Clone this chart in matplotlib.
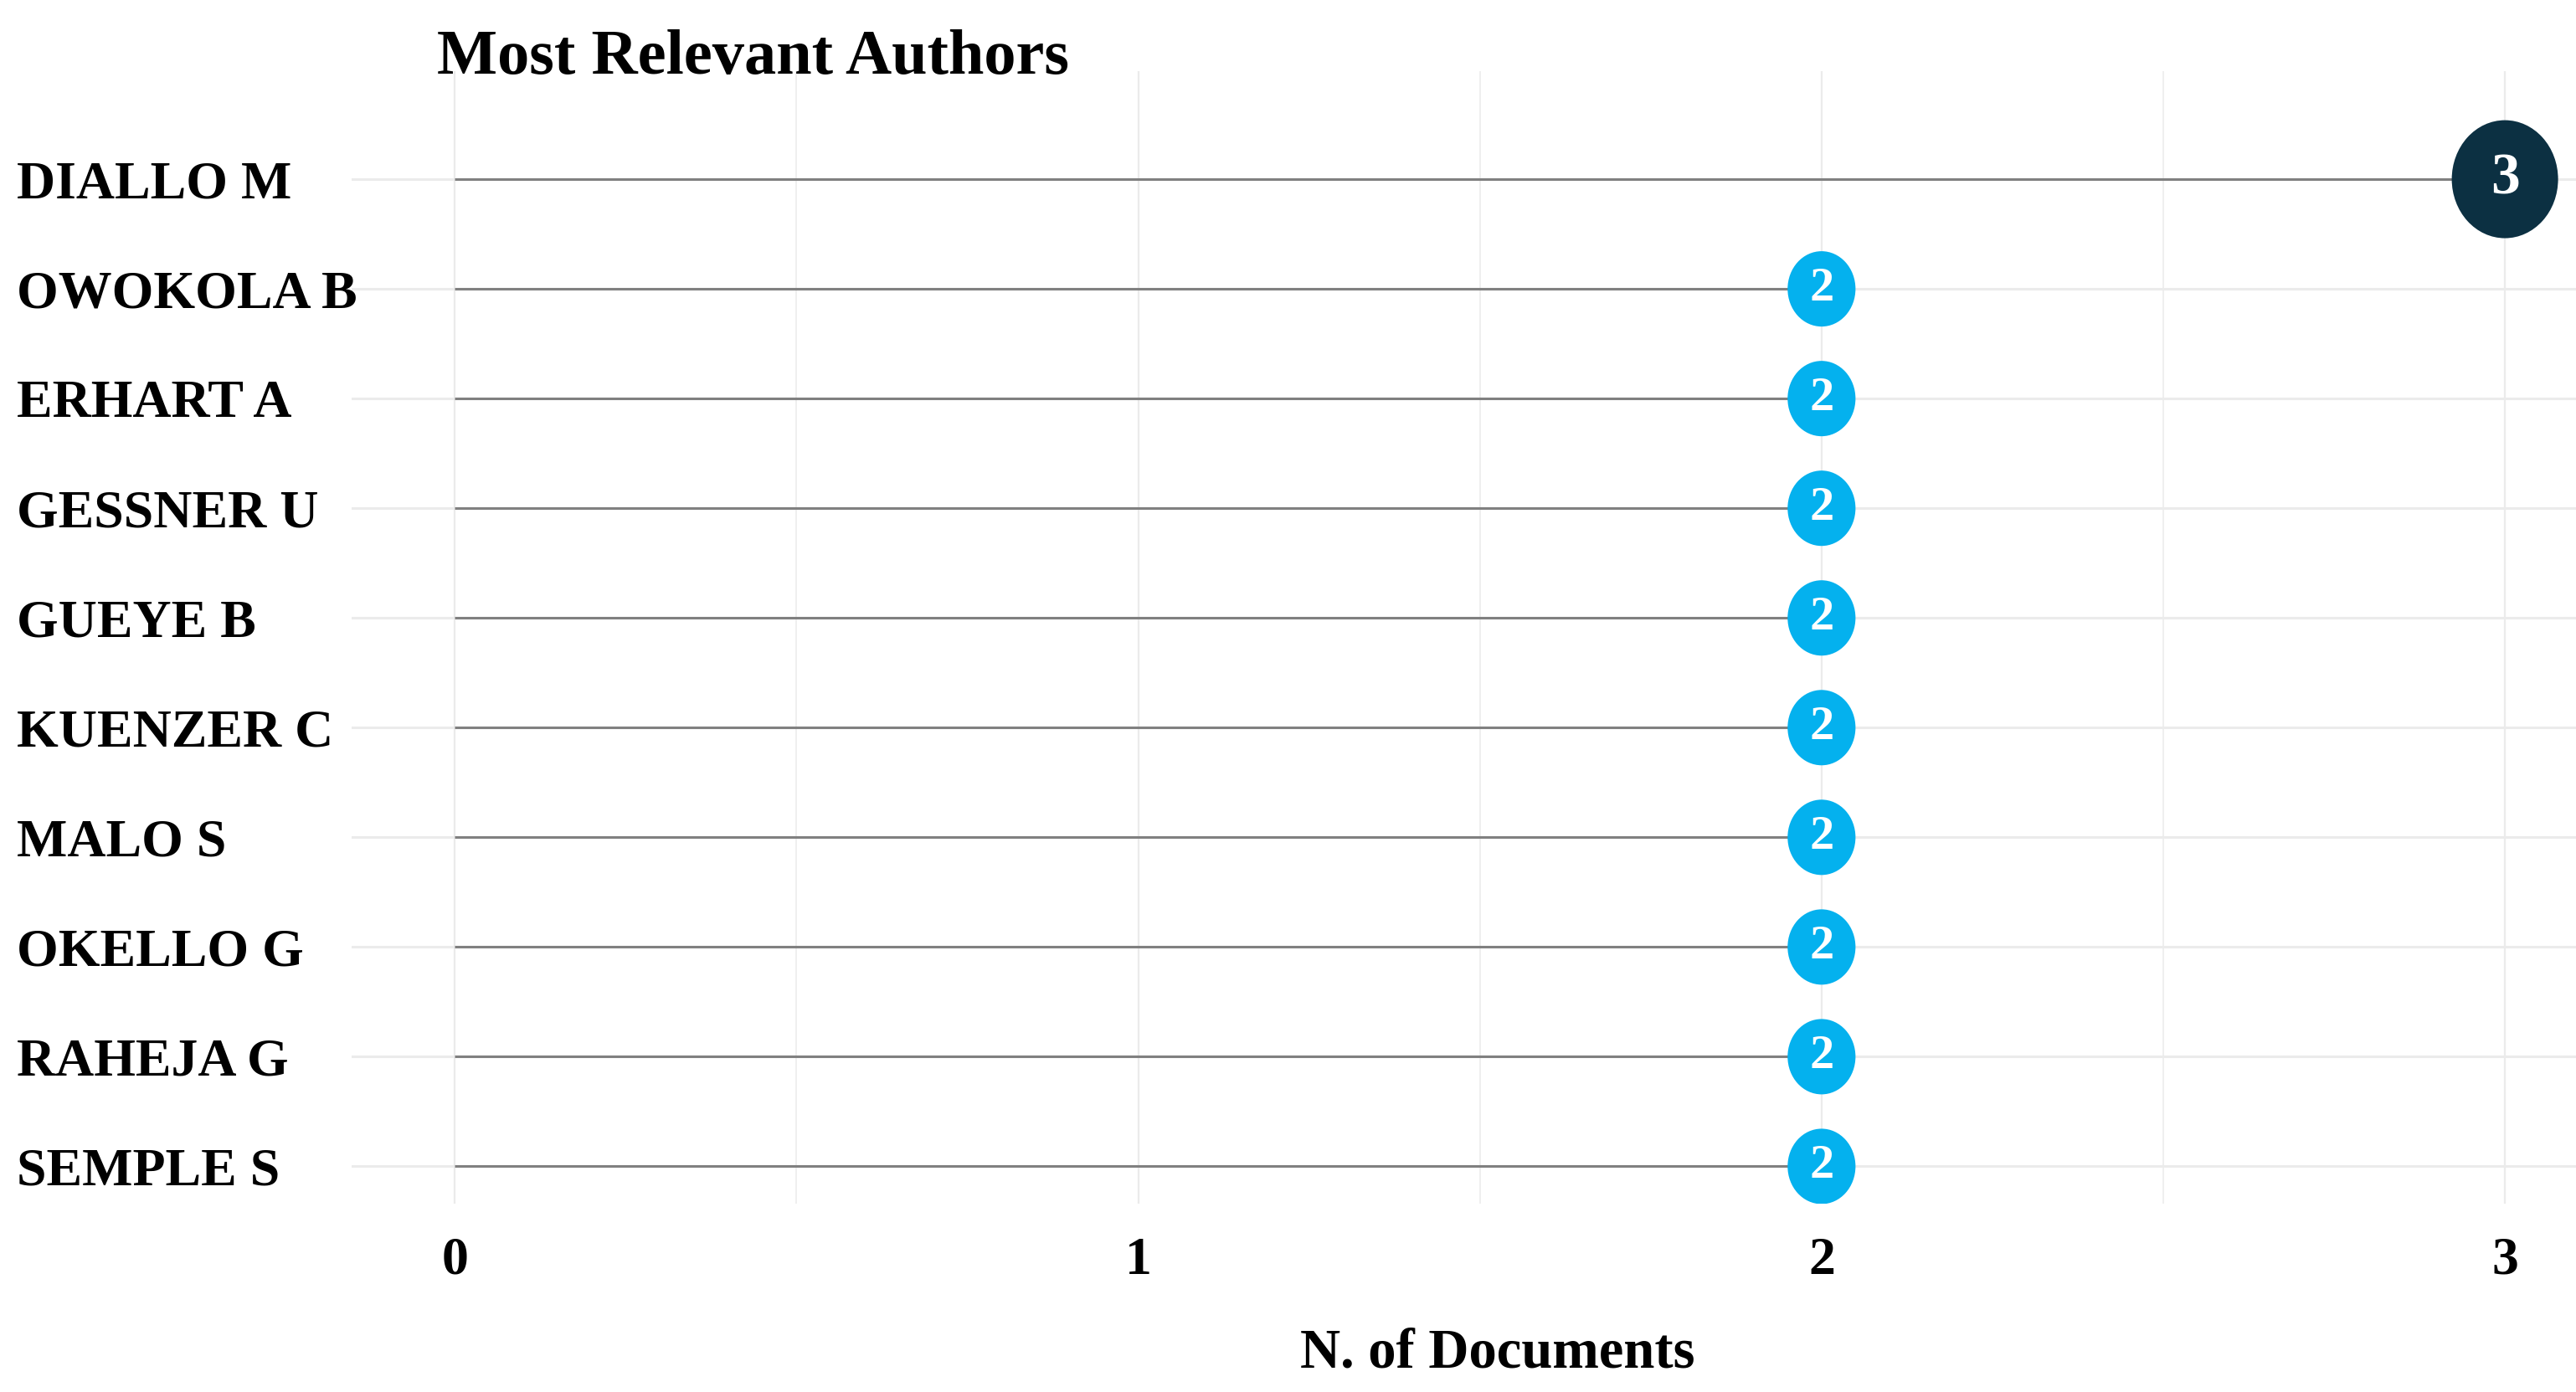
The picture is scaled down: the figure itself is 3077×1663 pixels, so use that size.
import matplotlib
matplotlib.use("Agg")
import matplotlib.pyplot as plt
import numpy as np
from matplotlib.path import Path
from matplotlib.markers import MarkerStyle
from matplotlib.transforms import Affine2D

# data
authors = ["DIALLO M", "OWOKOLA B", "ERHART A", "GESSNER U", "GUEYE B",
           "KUENZER C", "MALO S", "OKELLO G", "RAHEJA G", "SEMPLE S"]
n_docs = [3, 2, 2, 2, 2, 2, 2, 2, 2, 2]
x_ticks = [0, 1, 2, 3]

plt.rcParams['font.family'] = ['Liberation Serif', 'DejaVu Serif']
plt.rcParams['font.weight'] = 'bold'

DARK = '#0c3042'
LIGHT = '#04b1ee'

fig = plt.figure(figsize=(30.77, 16.63), dpi=100)
ax = fig.add_axes([420 / 3077, 225 / 1663, 1 - 420 / 3077, 1353 / 1663])

y = np.arange(len(authors))

# grid
for t in x_ticks:
    ax.axvline(t, color='#ebebeb', lw=1.6, zorder=0)
for t in [0.5, 1.5, 2.5]:
    ax.axvline(t, color='#ebebeb', lw=1.1, zorder=0)
for yy in y:
    ax.axhline(yy, color='#ebebeb', lw=2.2, zorder=0)

# stems
ax.hlines(y, 0, n_docs, color='#808080', lw=2.2, zorder=1)

# ellipse marker, slightly taller than wide
circ = Path.unit_circle()
ell = Affine2D().scale(1.0, 1.11).transform_path(circ)
marker = MarkerStyle(ell)

vmax = max(n_docs)
for yy, v in zip(y, n_docs):
    big = v == vmax
    size = 10300 if big else 4200
    col = DARK if big else LIGHT
    ax.scatter([v], [yy], s=size, marker=marker, color=col, edgecolors='none', zorder=3)
    ax.text(v, yy, str(v), color='white', fontsize=50 if big else 42,
            ha='center', va='center', zorder=4, fontweight='bold')

ax.set_xlim(-0.151, 3.104)
ax.set_ylim(9.34, -0.985)
ax.set_xticks(x_ticks)
ax.set_xticklabels([str(t) for t in x_ticks], fontsize=46)
ax.set_yticks(y)
ax.set_yticklabels(authors, fontsize=46, ha='left')
ax.tick_params(axis='y', length=0, pad=400 * 0.72)
ax.tick_params(axis='x', length=0, pad=40 * 0.72)
for s in ax.spines.values():
    s.set_visible(False)

ax.set_xlabel("N. of Documents", fontsize=48, fontweight='bold')
ax.xaxis.set_label_coords(0.515, -0.11)

fig.text(522 / 3077, 1 - 88 / 1663, "Most Relevant Authors", fontsize=55,
         fontweight='bold', ha='left', va='baseline')

fig.savefig("out.png", dpi=100)
